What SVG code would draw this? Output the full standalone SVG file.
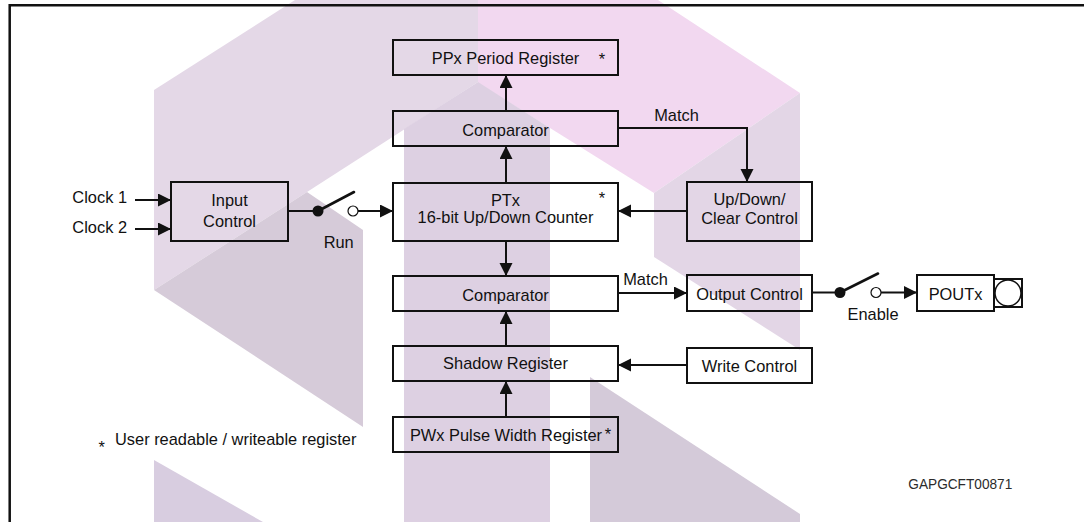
<svg xmlns="http://www.w3.org/2000/svg" width="1084" height="522" viewBox="0 0 1084 522">
<style>
.t{font-family:"Liberation Sans",Arial,Helvetica,sans-serif;font-size:16.4px;fill:#111;text-anchor:middle}
.s{text-anchor:start}
.e{text-anchor:end}
.box{fill:none;stroke:#111;stroke-width:2}
.ln{fill:none;stroke:#111;stroke-width:2}
.ar{marker-end:url(#ah)}
.lever{stroke:#111;stroke-width:2.6;stroke-linecap:round}
.dot{fill:#111}
.open{fill:#fff;stroke:#111;stroke-width:1.2}
</style>
<defs>
<marker id="ah" markerUnits="userSpaceOnUse" markerWidth="14" markerHeight="14" refX="13" refY="6.5" orient="auto">
<path d="M0,0 L13,6.5 L0,13 z" fill="#111"/>
</marker>
</defs>
<rect width="1084" height="522" fill="#fff"/>
<g id="watermark">
<polygon fill="#e4d8e7" points="154,90 295,0 478,0 478,82 307,192 154,290"/>
<polygon fill="#f2d8f0" points="478,0 658,0 800,93 654,193 478,83"/>
<polygon fill="#d6cbd9" points="154,290 307,192 363,230 363,427"/>
<polygon fill="#ddd0e2" points="404,129 478,82 550,128 550,522 404,522"/>
<polygon fill="#e3d6e6" points="654,193 800,93 800,350 654,257"/>
<polygon fill="#d8cde0" points="154,460 263,522 154,522"/>
<polygon fill="#d4cad9" points="590,377 800,514 800,522 590,522"/>
</g>
<path id="frame" d="M9.7,522 V5.3 H1084" fill="none" stroke="#111" stroke-width="2.5"/>
<g id="connectors">
<path class="ln ar" d="M135,200 H171"/>
<path class="ln ar" d="M135,229 H171"/>
<path class="ln" d="M288,211 H318"/>
<circle class="dot" cx="318" cy="211" r="5.5"/>
<line class="lever" x1="318" y1="211" x2="354" y2="192"/>
<circle class="open" cx="353" cy="211" r="5"/>
<path class="ln ar" d="M358,211 H393"/>
<path class="ln ar" d="M506,111 V75"/>
<path class="ln ar" d="M506,183 V146"/>
<path class="ln ar" d="M506,241 V276"/>
<path class="ln ar" d="M506,346 V311"/>
<path class="ln ar" d="M506,417 V381"/>
<path class="ln ar" d="M618,128 H747 V182"/>
<path class="ln ar" d="M687,211 H618"/>
<path class="ln ar" d="M618,293 H687"/>
<path class="ln ar" d="M687,365 H618"/>
<path class="ln" d="M812,292.5 H840"/>
<circle class="dot" cx="840" cy="292.5" r="5.5"/>
<line class="lever" x1="840" y1="292.5" x2="878" y2="273.5"/>
<circle class="open" cx="876" cy="292.5" r="5"/>
<path class="ln ar" d="M881,292.5 H917"/>
<text class="t" x="676.5" y="120.5">Match</text>
<text class="t" x="645.5" y="285">Match</text>
<text class="t" x="338.7" y="248.3">Run</text>
<text class="t" x="873" y="320">Enable</text>
</g>
<g id="clock1"><text class="t e" x="127" y="203.3">Clock 1</text></g>
<g id="clock2"><text class="t e" x="127" y="233.3">Clock 2</text></g>
<g id="input-control">
<rect class="box" x="171" y="182" width="117" height="59"/>
<text class="t" x="229.5" y="206">Input</text>
<text class="t" x="229.5" y="226.5">Control</text>
</g>
<g id="ppx">
<rect class="box" x="393" y="40" width="225" height="35"/>
<text class="t" x="505.5" y="64">PPx Period Register</text>
<text class="t" x="602" y="65">*</text>
</g>
<g id="comparator1">
<rect class="box" x="393" y="111" width="225" height="35"/>
<text class="t" x="505.5" y="136">Comparator</text>
</g>
<g id="ptx">
<rect class="box" x="393" y="183" width="225" height="58"/>
<text class="t" x="505.5" y="205.5">PTx</text>
<text class="t" x="505.5" y="223.3">16-bit Up/Down Counter</text>
<text class="t" x="602" y="204">*</text>
</g>
<g id="comparator2">
<rect class="box" x="393" y="276" width="225" height="35"/>
<text class="t" x="505.5" y="300.5">Comparator</text>
</g>
<g id="shadow">
<rect class="box" x="393" y="346" width="225" height="35"/>
<text class="t" x="505.5" y="369">Shadow Register</text>
</g>
<g id="pwx">
<rect class="box" x="393" y="417" width="225" height="35"/>
<text class="t" x="506" y="440.5">PWx Pulse Width Register</text>
<text class="t" x="608" y="439.5">*</text>
</g>
<g id="updown">
<rect class="box" x="687" y="182" width="125" height="59"/>
<text class="t" x="749.5" y="205">Up/Down/</text>
<text class="t" x="749.5" y="224">Clear Control</text>
</g>
<g id="output-control">
<rect class="box" x="687" y="275" width="125" height="36"/>
<text class="t" x="749.5" y="300">Output Control</text>
</g>
<g id="write-control">
<rect class="box" x="687" y="348" width="125" height="35"/>
<text class="t" x="749.5" y="371.5">Write Control</text>
</g>
<g id="poutx">
<rect class="box" x="917" y="275" width="77" height="36"/>
<text class="t" x="955.5" y="300">POUTx</text>
<rect class="box" x="994" y="279" width="28" height="28"/>
<circle cx="1008" cy="293" r="13" fill="none" stroke="#111" stroke-width="1.5"/>
</g>
<g id="legend">
<text class="t" x="101.7" y="452.5">*</text>
<text class="t s" x="115" y="445">User readable / writeable register</text>
</g>
<text id="code" x="908.3" y="489.3" font-family="Liberation Sans,Arial,sans-serif" font-size="14" fill="#2b2b2b" textLength="104" lengthAdjust="spacingAndGlyphs">GAPGCFT00871</text>
</svg>
